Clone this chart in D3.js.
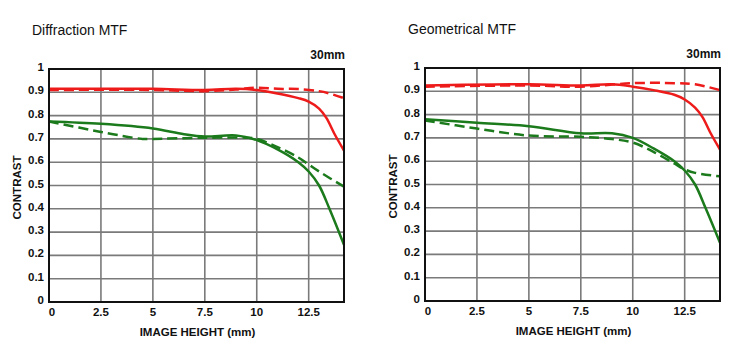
<!DOCTYPE html>
<html>
<head>
<meta charset="utf-8">
<script src="https://cdn.jsdelivr.net/npm/d3@7"></script>
<style>
  body { margin: 0; background: #fff; }
  svg text { font-family: "Liberation Sans", Arial, sans-serif; fill: #111; }
  .title { font-size: 14px; }
  .tick-label, .axis-label, .focal { font-weight: bold; }
</style>
</head>
<body>
<svg id="chart" width="750" height="362"></svg>
<script>
// image height (mm)
const heights_diff_rs = [0, 2.5, 5, 7.5, 9, 10, 11, 12, 12.5, 13, 13.35, 13.75, 14.2];
const diff_red_solid  = [0.915, 0.915, 0.915, 0.91, 0.915, 0.91, 0.895, 0.875, 0.86, 0.83, 0.79, 0.72, 0.65];
const heights_diff_rd = [0, 5, 7.5, 9, 10, 11, 12, 13, 13.5, 14.2];
const diff_red_dash   = [0.91, 0.91, 0.905, 0.912, 0.92, 0.915, 0.914, 0.905, 0.895, 0.875];
const heights_diff_gs = [0, 2.5, 5, 6.5, 7.5, 9, 10, 11, 12, 12.5, 13, 13.5, 14.2];
const diff_green_solid = [0.775, 0.765, 0.745, 0.72, 0.71, 0.715, 0.695, 0.655, 0.6, 0.56, 0.5, 0.4, 0.245];
const heights_diff_gd = [0, 2.5, 4.5, 5, 7.5, 9.5, 10, 11, 12, 12.5, 13, 14.2];
const diff_green_dash = [0.775, 0.73, 0.7, 0.7, 0.705, 0.705, 0.7, 0.665, 0.62, 0.59, 0.56, 0.495];

const heights_geo_rs = [0, 5, 7.5, 9, 10, 11, 12, 12.5, 13, 13.35, 13.75, 14.2];
const geo_red_solid  = [0.925, 0.93, 0.925, 0.93, 0.92, 0.905, 0.885, 0.865, 0.83, 0.79, 0.72, 0.65];
const heights_geo_rd = [0, 5, 7.5, 10, 12, 13, 14.2];
const geo_red_dash   = [0.92, 0.925, 0.92, 0.935, 0.935, 0.93, 0.905];
const heights_geo_gs = [0, 2.5, 5, 7.5, 9, 10, 11, 12, 12.5, 13, 13.5, 14.2];
const geo_green_solid = [0.78, 0.765, 0.75, 0.72, 0.72, 0.7, 0.655, 0.6, 0.56, 0.5, 0.4, 0.25];
const heights_geo_gd = [0, 2.5, 5, 7.5, 9, 10, 11, 12, 12.5, 13, 14.2];
const geo_green_dash = [0.775, 0.74, 0.71, 0.705, 0.695, 0.68, 0.64, 0.59, 0.565, 0.55, 0.535];

const x_ticks = [0, 2.5, 5, 7.5, 10, 12.5];
const y_ticks = [0, 0.1, 0.2, 0.3, 0.4, 0.5, 0.6, 0.7, 0.8, 0.9, 1];

const RED = "#ee1b1b";
const GREEN = "#1b7a1b";

const panels = [
  {
    title: "Diffraction MTF", left: 49, top: 69,
    series: [
      { xs: heights_diff_rs, ys: diff_red_solid, color: RED, dash: null },
      { xs: heights_diff_rd, ys: diff_red_dash, color: RED, dash: "10,5" },
      { xs: heights_diff_gs, ys: diff_green_solid, color: GREEN, dash: null },
      { xs: heights_diff_gd, ys: diff_green_dash, color: GREEN, dash: "10,5" },
    ],
  },
  {
    title: "Geometrical MTF", left: 425, top: 68,
    series: [
      { xs: heights_geo_rs, ys: geo_red_solid, color: RED, dash: null },
      { xs: heights_geo_rd, ys: geo_red_dash, color: RED, dash: "10,5" },
      { xs: heights_geo_gs, ys: geo_green_solid, color: GREEN, dash: null },
      { xs: heights_geo_gd, ys: geo_green_dash, color: GREEN, dash: "10,5" },
    ],
  },
];

const plot_w = 295;
const plot_h = 233;

const svg = d3.select("#chart");

panels.forEach((p) => {
  const g = svg.append("g").attr("transform", `translate(${p.left},${p.top})`);

  const x = d3.scaleLinear().domain([0, 14.2]).range([0, plot_w]);
  const y = d3.scaleLinear().domain([0, 1]).range([plot_h, 0]);

  // grid
  g.append("g")
    .selectAll("line")
    .data(y_ticks)
    .enter()
    .append("line")
    .attr("x1", 0).attr("x2", plot_w)
    .attr("y1", (d) => y(d)).attr("y2", (d) => y(d))
    .attr("stroke", "#7a7a7a").attr("stroke-width", 1.6);

  g.append("g")
    .selectAll("line")
    .data(x_ticks)
    .enter()
    .append("line")
    .attr("x1", (d) => x(d)).attr("x2", (d) => x(d))
    .attr("y1", 0).attr("y2", plot_h)
    .attr("stroke", "#7a7a7a").attr("stroke-width", 1.6);

  // curves
  const line = d3.line().curve(d3.curveCatmullRom.alpha(0.5));
  p.series.forEach((s) => {
    g.append("path")
      .attr("d", line(s.xs.map((v, i) => [x(v), y(s.ys[i])])))
      .attr("fill", "none")
      .attr("stroke", s.color)
      .attr("stroke-width", 2.5)
      .attr("stroke-dasharray", s.dash);
  });

  // frame
  g.append("rect")
    .attr("width", plot_w).attr("height", plot_h)
    .attr("fill", "none").attr("stroke", "#111").attr("stroke-width", 2);

  // tick labels
  g.selectAll(".ytl")
    .data(y_ticks)
    .enter()
    .append("text")
    .attr("class", "tick-label")
    .attr("x", -5)
    .attr("y", (d) => y(d) - 2)
    .attr("text-anchor", "end")
    .attr("dy", "0.35em")
    .style("font-size", "11.5px")
    .text((d) => d3.format("~g")(d));

  g.selectAll(".xtl")
    .data(x_ticks)
    .enter()
    .append("text")
    .attr("class", "tick-label")
    .attr("x", (d) => x(d) + (d === 0 ? 3 : 0))
    .attr("y", plot_h + 14)
    .attr("text-anchor", "middle")
    .style("font-size", "11.5px")
    .text((d) => `${d}`);

  g.append("text")
    .attr("class", "axis-label")
    .attr("x", plot_w / 2 + 1)
    .attr("y", plot_h + 34)
    .attr("text-anchor", "middle")
    .style("font-size", "11.5px")
    .text("IMAGE HEIGHT (mm)");

  g.append("text")
    .attr("class", "axis-label")
    .attr("transform", `translate(${-28},${plot_h / 2 + 2}) rotate(-90)`)
    .attr("text-anchor", "middle")
    .style("font-size", "11.5px")
    .text("CONTRAST");

  g.append("text")
    .attr("class", "focal")
    .attr("x", plot_w + 1)
    .attr("y", -10)
    .attr("text-anchor", "end")
    .style("font-size", "12px")
    .text("30mm");

  g.append("text")
    .attr("class", "title")
    .attr("x", -17)
    .attr("y", -34)
    .text(p.title);
});
</script>
</body>
</html>
